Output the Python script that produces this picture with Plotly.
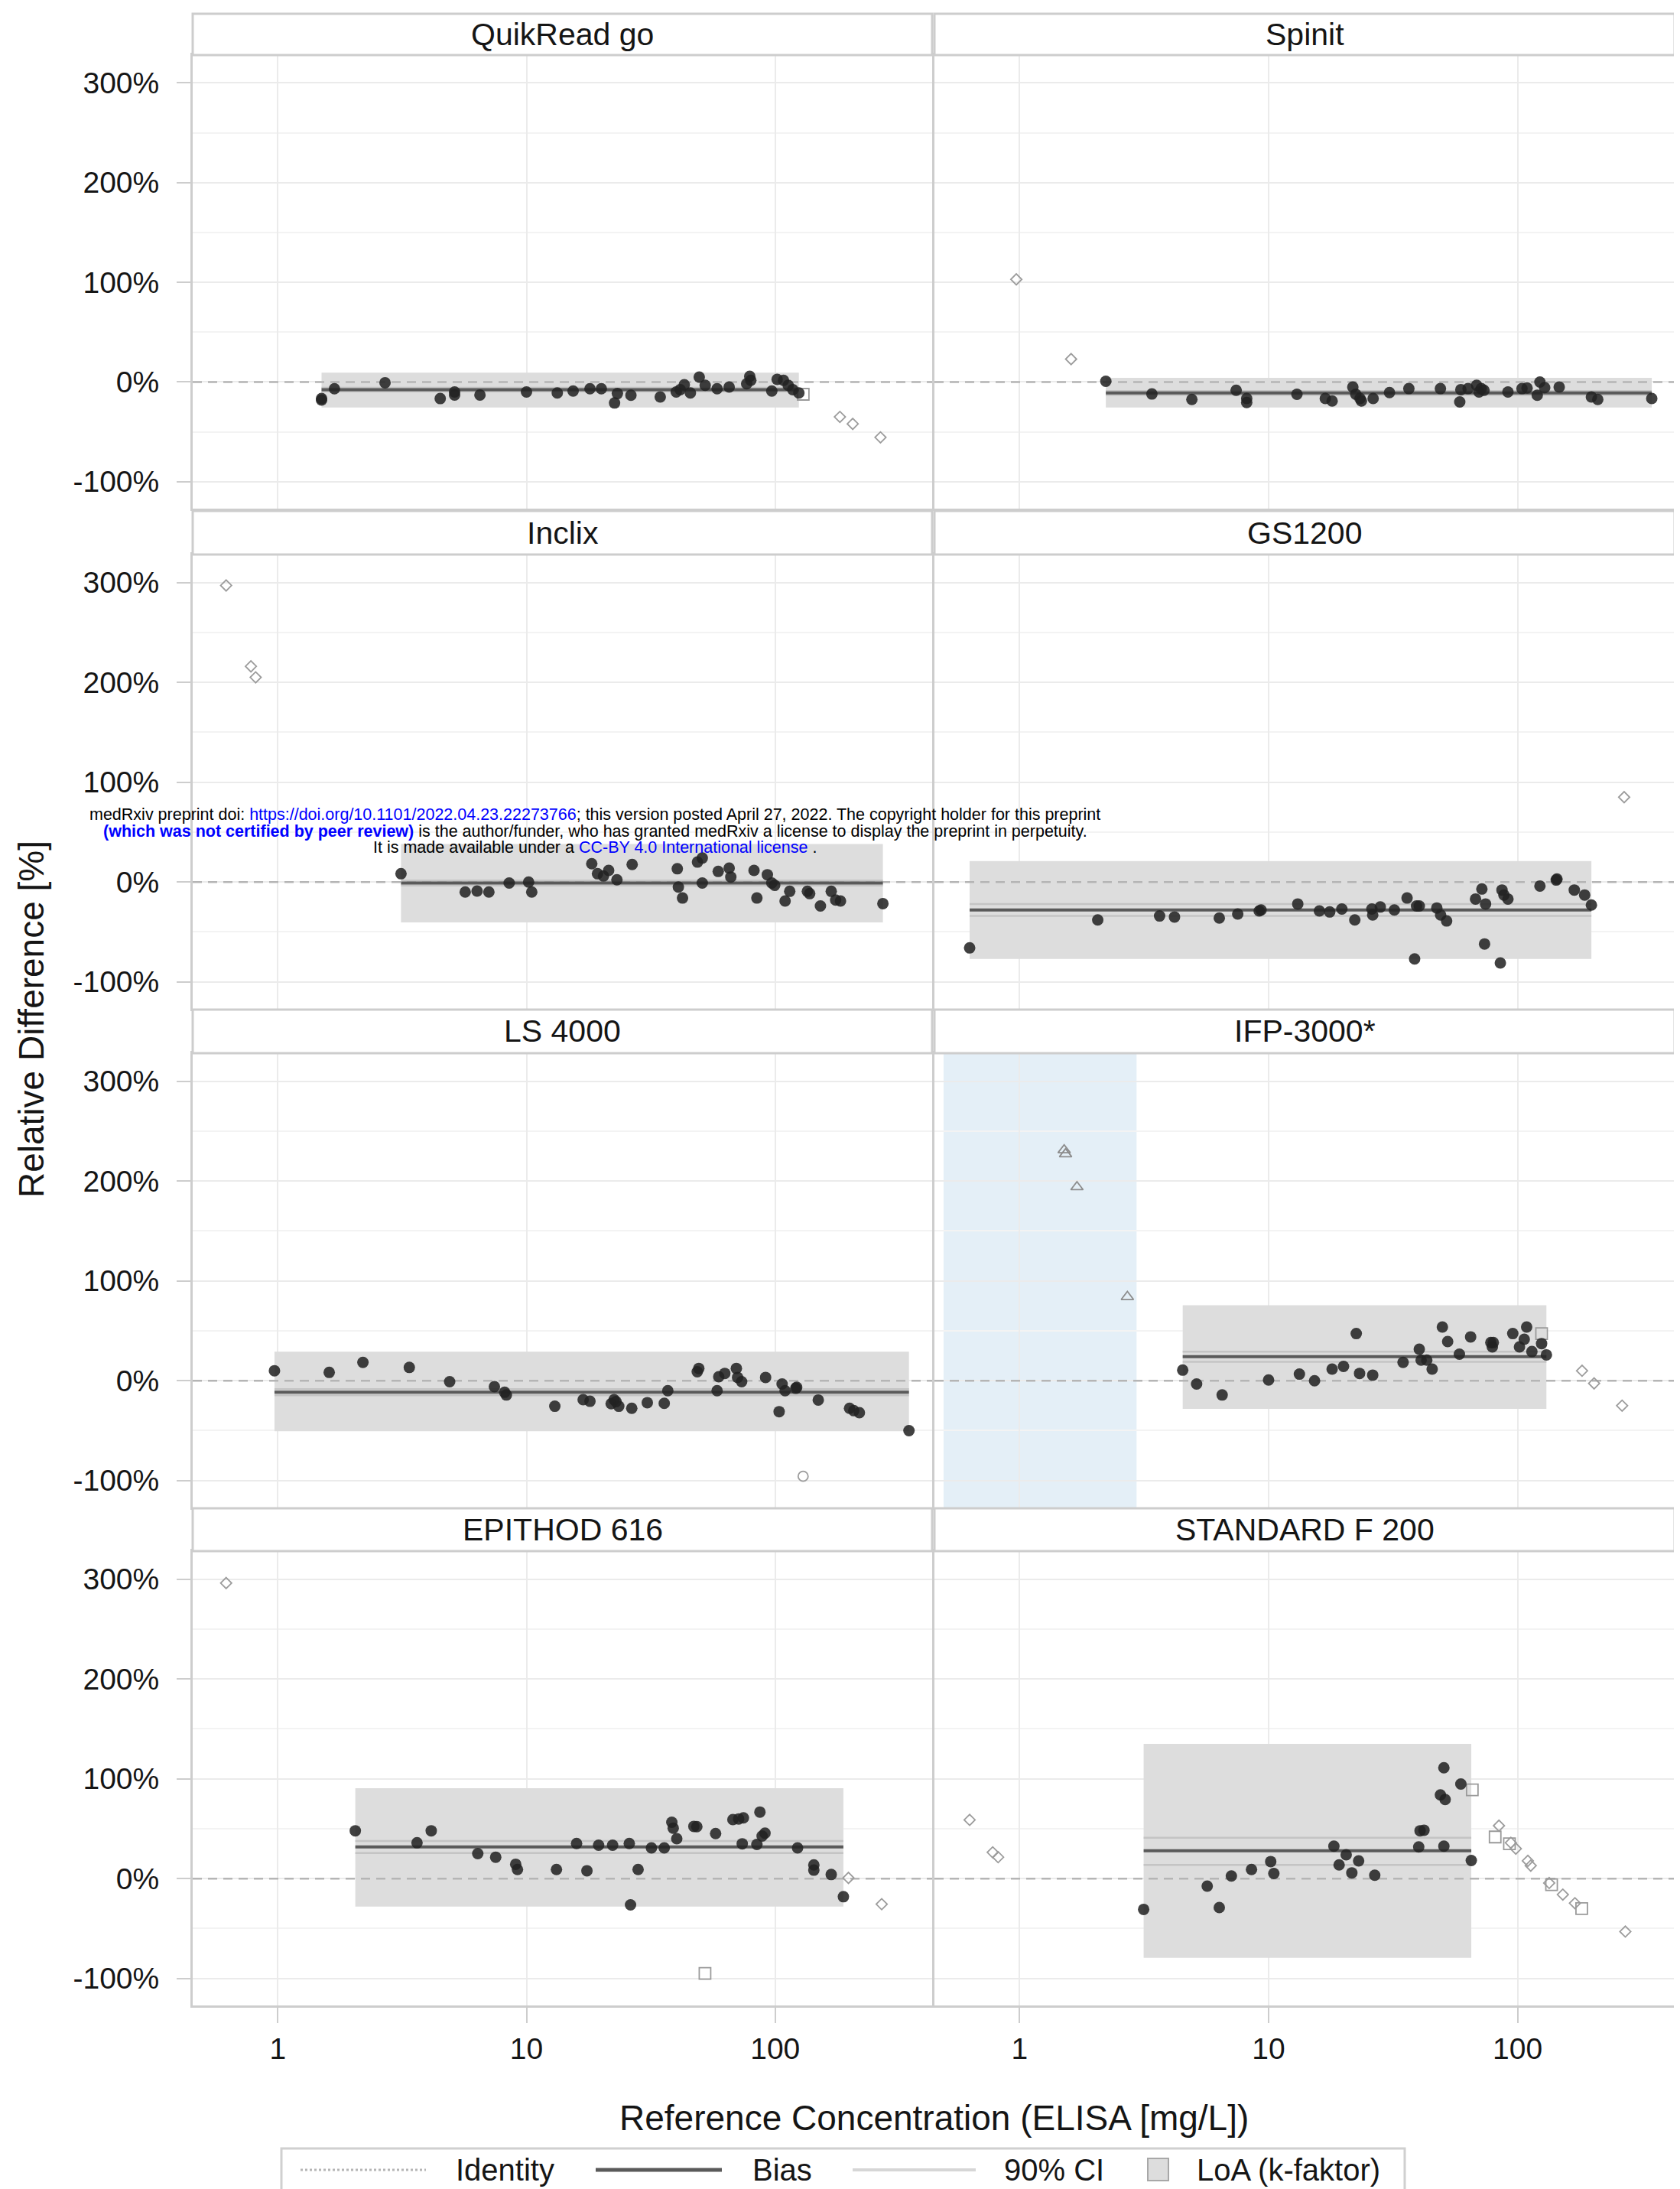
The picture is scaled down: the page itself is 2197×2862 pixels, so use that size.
import plotly.graph_objects as go

W, H = 2197, 2862
FONT = "Liberation Sans, Arial, sans-serif"

PANELS = ["QuikRead go", "Spinit", "Inclix", "GS1200",
          "LS 4000", "IFP-3000*", "EPITHOD 616", "STANDARD F 200"]

# ---------------- data ----------------
# QuikRead go
QUIK_X = [1.50, 1.50, 1.69, 2.70, 4.50, 5.14, 5.14, 6.5, 10.0, 13.3, 15.4, 18.0, 20.0, 22.6, 23.2, 26.3, 34.5,
          40.0, 41.5, 43.1, 45.6, 49.5, 52.3, 58.4, 65.3, 76.8, 79.0, 79.8, 96.9, 101.8, 108, 112.8, 117.7, 124.5]
QUIK_Y = [-16.6, -18, -6.7, -0.7, -16.6, -10, -13, -13, -10, -11, -9, -6.7, -6.7, -21, -11.6, -13.3, -15,
          -10, -7.6, -2.7, -11, 5, -3.3, -6.7, -5, -1.7, 5.7, 1.7, -9, 2.7, 1.7, -3.3, -7.6, -11]
QUIK_SQ_X = [129.6]
QUIK_SQ_Y = [-12.3]
QUIK_DI_X = [182, 205, 265]
QUIK_DI_Y = [-35, -42, -55.5]
QUIK_LOA = [-25.6, 9.3]
QUIK_BIAS = -7.6
QUIK_CI = [-9.5, -5.8]

# Spinit
SPIN_X = [2.22, 3.40, 4.92, 7.41, 8.17, 8.17, 13.0, 16.9, 18.0, 21.8, 22.4, 23.3, 23.6, 26.3, 30.6, 36.6, 49.0,
          58.6, 59.2, 63.3, 68.5, 70.0, 71.5, 73.3, 91.5, 104.2, 109.2, 120, 123, 128.5, 147, 198, 210, 346]
SPIN_Y = [0.7, -12, -17.5, -8.3, -16.5, -20.5, -12.3, -16.5, -19, -5, -12.3, -16.5, -19, -16.5, -10.6, -6.6, -6.6,
          -20, -7.6, -6.6, -3.3, -10, -6.6, -8.3, -10, -6.6, -6, -13.2, 0, -5.6, -5, -15, -17.5, -16.5]
SPIN_DI_X = [0.97, 1.61]
SPIN_DI_Y = [103, 23]
SPIN_LOA = [-25.5, 4.3]
SPIN_BIAS = -11
SPIN_CI = [-13, -9]

# Inclix
INCL_X = [3.13, 5.67, 6.33, 7.06, 8.52, 10.2, 10.5, 18.3, 19.3, 20.4, 21.4, 23.1, 26.6, 40.4, 40.8, 42.4, 48.7,
          50.9, 50.9, 59.0, 65.3, 66.3, 82.2, 84.4, 93.0, 96.9, 99.5, 109.6, 114.4, 134.7, 137.6, 152, 168, 175,
          183, 271]
INCL_Y = [8.3, -10, -9, -10, -1, 0, -10, 18.3, 8.3, 6, 11.6, 2.3, 17.6, 13.3, -5, -16, 20,
          24, -1, 10.6, 14, 5, 11.6, -16, 7.3, -1, -3.3, -19, -9.3, -9.3, -11.6, -24, -9.3, -18,
          -19, -21.6]
INCL_DI_X = [0.62, 0.78, 0.815]
INCL_DI_Y = [297, 216, 205]
INCL_LOA = [-40.5, 38]
INCL_BIAS = -1
INCL_CI = [-3.5, 1.5]

# GS1200
GS_X = [0.63, 2.06, 3.65, 4.19, 6.34, 7.52, 9.17, 9.33, 13.1, 16.0, 17.6, 19.7, 22.2, 26.0, 26.2, 28.1, 32.0,
        36.0, 38.6, 39.3, 40.3, 47.4, 49.1, 51.9, 67.8, 71.9, 73.7, 74.4, 85.3, 86.6, 88.2, 91.5, 123, 143, 144,
        169, 186, 198]
GS_Y = [-66, -38, -34, -35, -36, -32, -29, -28, -22, -29, -30, -27, -38, -27, -33, -25, -28,
        -16, -77, -24, -24, -26, -33, -39, -17, -7, -62, -22, -81, -8, -13, -17, -4, 2, 3,
        -8, -13, -23]
GS_DI_X = [268]
GS_DI_Y = [85]
GS_LOA = [-77, 21]
GS_BIAS = -28
GS_CI = [-34, -22]

# LS 4000
LS_X = [0.97, 1.61, 2.20, 3.38, 4.91, 7.43, 8.17, 8.30, 13.0, 16.9, 18.0, 21.9, 22.5, 22.9, 23.5, 26.5, 30.6,
        35.8, 37.0, 48.6, 49.3, 58.4, 59.3, 62.7, 69.8, 70.6, 73.3, 91.5, 103.7, 106.6, 109.6, 121, 122, 149,
        199, 207, 218, 345]
LS_Y = [10, 8.3, 18.3, 13.3, -1, -6, -11.6, -14.3, -25.6, -19, -20.6, -23, -19, -21, -25.6, -27.6, -22,
        -22.6, -10, 9, 12.3, -10, 4, 7.3, 12.3, 3.3, -1, 3.3, -31, -3.3, -10, -7.6, -6.6, -19.3,
        -27.6, -30, -32, -50]
LS_CI_X = [129.5]
LS_CI_Y = [-95.7]
LS_LOA = [-50.5, 29]
LS_BIAS = -11.5
LS_CI = [-14.5, -8.5]

# IFP-3000*
IFP_X = [4.52, 5.14, 6.51, 10.0, 13.3, 15.3, 18.0, 20.0, 22.5, 23.2, 26.2, 34.7, 40.3, 41.0, 43.2, 45.4, 49.9,
         52.4, 58.4, 64.8, 78.1, 79.2, 79.9, 95.7, 101.8, 106.4, 108.8, 114.2, 124.9, 130.6]
IFP_Y = [10.6, -3.3, -14.3, 0.7, 6.6, 0, 11.6, 14.3, 47.2, 7.3, 5.6, 18.3, 31.6, 20.6, 20.6, 11.6, 53.8,
         39.2, 26.6, 43.9, 38.2, 33.9, 38.2, 47.2, 33.9, 41.5, 53.8, 29.2, 37.2, 25.9]
IFP_TR_X = [1.51, 1.53, 1.70, 2.71]
IFP_TR_Y = [231, 227, 194, 84]
IFP_SQ_X = [124.9]
IFP_SQ_Y = [47.2]
IFP_DI_X = [181.6, 203, 263]
IFP_DI_Y = [10, -2.7, -25]
IFP_LOA = [-28.2, 75.7]
IFP_BIAS = 24
IFP_CI = [19, 29]
IFP_LOW_RANGE = [0.495, 2.95]

# EPITHOD 616
EPI_X = [2.05, 3.63, 4.14, 6.37, 7.52, 9.05, 9.2, 13.2, 15.9, 17.5, 19.5, 22.2, 25.9, 26.2, 28.1, 31.8, 35.8,
         38.4, 38.9, 40.2, 47.1, 48.4, 57.6, 67.6, 71.3, 74.5, 73.7, 84.4, 86.8, 88.6, 91.0, 123, 143, 143,
         168, 188]
EPI_Y = [47.9, 35.9, 47.9, 25, 21.5, 14.4, 9.2, 9.2, 35.2, 7.9, 33.5, 33.5, 35.2, -26.3, 9.2, 30.8, 30.8,
         56.4, 50.6, 40, 52.3, 52, 45.1, 59.1, 59.8, 60.9, 34.9, 34.2, 66.7, 42.7, 45.5, 30.8, 13.7, 8.5,
         4.1, -18.1]
EPI_DI_X = [0.62, 197, 268]
EPI_DI_Y = [296, 0.7, -25.6]
EPI_SQ_X = [52.2]
EPI_SQ_Y = [-95]
EPI_LOA = [-28, 90.6]
EPI_BIAS = 31.8
EPI_CI = [25.6, 37.6]

# STANDARD F 200
STD_X = [3.15, 5.67, 6.34, 7.09, 8.54, 10.2, 10.5, 18.3, 19.2, 20.5, 21.6, 23.0, 26.7, 40.1, 40.6, 42.1, 49.0,
         51.2, 50.6, 50.6, 59.2, 65.2]
STD_Y = [-30.8, -7.5, -29, 2.7, 9.2, 17.1, 5.1, 32.5, 13.7, 23.9, 5.8, 17.8, 3.4, 31.8, 47.9, 48.5, 83.8,
         79.3, 111, 32.5, 94.7, 18.1]
STD_SQ_X = [65.8, 81.3, 92.8, 137, 181]
STD_SQ_Y = [88.9, 41.7, 34.9, -6, -30]
STD_DI_X = [0.63, 0.78, 0.82, 84.2, 94, 98.4, 110, 113, 134, 152, 170, 271]
STD_DI_Y = [58.8, 26.3, 21.5, 53, 35.9, 30, 17.8, 13, -4.4, -16, -24.6, -53]
STD_LOA = [-79.3, 135]
STD_BIAS = 28
STD_CI = [13.7, 41]

IDENTITY = 0

Y_RANGE = [-127, 328]
X_RANGE_LOG = [-0.342, 2.631]
Y_TICKS = [-100, 0, 100, 200, 300]
Y_TICK_TEXT = ["-100%", "0%", "100%", "200%", "300%"]
X_TICKS = [1, 10, 100]
X_TICK_TEXT = ["1", "10", "100"]

LEGEND_LABELS = ["Identity", "Bias", "90% CI", "LoA (k-faktor)"]

# per-panel bundle
DATA = [
    dict(x=QUIK_X, y=QUIK_Y, loa=QUIK_LOA, bias=QUIK_BIAS, ci=QUIK_CI,
         extra=[("diamond-open", QUIK_DI_X, QUIK_DI_Y), ("square-open", QUIK_SQ_X, QUIK_SQ_Y)]),
    dict(x=SPIN_X, y=SPIN_Y, loa=SPIN_LOA, bias=SPIN_BIAS, ci=SPIN_CI,
         extra=[("diamond-open", SPIN_DI_X, SPIN_DI_Y)]),
    dict(x=INCL_X, y=INCL_Y, loa=INCL_LOA, bias=INCL_BIAS, ci=INCL_CI,
         extra=[("diamond-open", INCL_DI_X, INCL_DI_Y)]),
    dict(x=GS_X, y=GS_Y, loa=GS_LOA, bias=GS_BIAS, ci=GS_CI,
         extra=[("diamond-open", GS_DI_X, GS_DI_Y)]),
    dict(x=LS_X, y=LS_Y, loa=LS_LOA, bias=LS_BIAS, ci=LS_CI,
         extra=[("circle-open", LS_CI_X, LS_CI_Y)]),
    dict(x=IFP_X, y=IFP_Y, loa=IFP_LOA, bias=IFP_BIAS, ci=IFP_CI,
         extra=[("triangle-up-open", IFP_TR_X, IFP_TR_Y), ("square-open", IFP_SQ_X, IFP_SQ_Y),
                ("diamond-open", IFP_DI_X, IFP_DI_Y)]),
    dict(x=EPI_X, y=EPI_Y, loa=EPI_LOA, bias=EPI_BIAS, ci=EPI_CI,
         extra=[("diamond-open", EPI_DI_X, EPI_DI_Y), ("square-open", EPI_SQ_X, EPI_SQ_Y)]),
    dict(x=STD_X, y=STD_Y, loa=STD_LOA, bias=STD_BIAS, ci=STD_CI,
         extra=[("diamond-open", STD_DI_X, STD_DI_Y), ("square-open", STD_SQ_X, STD_SQ_Y)]),
]

# ---------------- styling / geometry (pixels) ----------------
COL_X = [(244, 1211), (1214, 2182)]
ROW_PLOT = [(64, 657), (717, 1311), (1369, 1963), (2020, 2614)]
ROW_STRIP = [(10, 64), (660, 717), (1312, 1369), (1964, 2020)]

GRID = "#ebebeb"
BORDER = "#cdcdcd"
LOA_FILL = "#dddddd"
BIAS_COL = "#5a5a5a"
CI_COL = "#c4c4c4"
ID_COL = "#b5b5b5"
PT_COL = "rgba(34,34,34,0.86)"
TXT = "#151515"
OPEN_COL = {"diamond-open": "#9c9c9c", "square-open": "#9a9a9a",
            "triangle-up-open": "#8c8c8c", "circle-open": "#9c9c9c"}
OPEN_SIZE = {"diamond-open": 11, "square-open": 15, "triangle-up-open": 14, "circle-open": 13}


def px_x(p):
    return p / W


def px_y(p):
    return 1 - p / H


fig = go.Figure()
shapes, annotations, axes = [], [], {}

for i, name in enumerate(PANELS):
    r, c = divmod(i, 2)
    sfx = "" if i == 0 else str(i + 1)
    xa, ya = "x" + sfx, "y" + sfx
    d = DATA[i]
    x0, x1 = COL_X[c]
    yt, yb = ROW_PLOT[r]
    bottom = (r == 3)
    left = (c == 0)

    axes["xaxis" + sfx] = dict(
        type="log", range=X_RANGE_LOG, domain=[px_x(x0), px_x(x1)], anchor=ya,
        tickvals=X_TICKS, ticktext=X_TICK_TEXT, showticklabels=bottom,
        ticks="outside" if bottom else "", ticklen=20, tickwidth=2, tickcolor=BORDER,
        ticklabelstandoff=0,
        showgrid=True, gridcolor=GRID, gridwidth=2, zeroline=False,
        showline=True, mirror=True, linecolor=BORDER, linewidth=3,
        tickfont=dict(family=FONT, size=39, color=TXT))
    axes["yaxis" + sfx] = dict(
        range=Y_RANGE, domain=[px_y(yb), px_y(yt)], anchor=xa,
        tickvals=Y_TICKS, ticktext=Y_TICK_TEXT, showticklabels=left,
        ticks="outside" if left else "", ticklen=18, tickwidth=2, tickcolor=BORDER,
        ticklabelstandoff=15,
        showgrid=True, gridcolor=GRID, gridwidth=2, zeroline=False,
        minor=dict(dtick=50, showgrid=True, gridcolor="#f3f3f3", gridwidth=1.5, ticks=""),
        showline=True, mirror=True, linecolor=BORDER, linewidth=3,
        tickfont=dict(family=FONT, size=39, color=TXT))

    # strip
    st, sb = ROW_STRIP[r]
    shapes.append(dict(type="rect", xref="paper", yref="paper",
                       x0=px_x(x0), x1=px_x(x1), y0=px_y(sb), y1=px_y(st),
                       fillcolor="white", line=dict(color=BORDER, width=3)))
    annotations.append(dict(text=name, xref="paper", yref="paper",
                            x=px_x((x0 + x1) / 2), y=px_y((st + sb) / 2),
                            xanchor="center", yanchor="middle", showarrow=False,
                            font=dict(family=FONT, size=41, color=TXT)))

    if name == "IFP-3000*":
        shapes.append(dict(type="rect", xref=xa, yref=ya + " domain",
                           x0=IFP_LOW_RANGE[0], x1=IFP_LOW_RANGE[1], y0=0, y1=1,
                           fillcolor="#e4eff7", line=dict(width=0), layer="below"))

    xmin, xmax = min(d["x"]), max(d["x"])
    lo, hi = d["loa"]
    # LoA rectangle
    fig.add_trace(go.Scatter(x=[xmin, xmax, xmax, xmin, xmin], y=[lo, lo, hi, hi, lo],
                             mode="lines", fill="toself", fillcolor=LOA_FILL,
                             line=dict(width=0), xaxis=xa, yaxis=ya, showlegend=False,
                             hoverinfo="skip"))
    # identity
    fig.add_trace(go.Scatter(x=[10 ** X_RANGE_LOG[0], 10 ** X_RANGE_LOG[1]], y=[IDENTITY, IDENTITY],
                             mode="lines", line=dict(color=ID_COL, width=2.5, dash="12px,8px"),
                             xaxis=xa, yaxis=ya, showlegend=False, hoverinfo="skip"))
    # CI
    for cv in d["ci"]:
        fig.add_trace(go.Scatter(x=[xmin, xmax], y=[cv, cv], mode="lines",
                                 line=dict(color=CI_COL, width=2.5),
                                 xaxis=xa, yaxis=ya, showlegend=False, hoverinfo="skip"))
    # bias
    fig.add_trace(go.Scatter(x=[xmin, xmax], y=[d["bias"], d["bias"]], mode="lines",
                             line=dict(color=BIAS_COL, width=4),
                             xaxis=xa, yaxis=ya, showlegend=False, hoverinfo="skip"))
    # open markers
    for sym, ex, ey in d["extra"]:
        fig.add_trace(go.Scatter(x=ex, y=ey, mode="markers",
                                 marker=dict(symbol=sym, size=OPEN_SIZE[sym], color=OPEN_COL[sym],
                                             line=dict(width=1.8, color=OPEN_COL[sym])),
                                 xaxis=xa, yaxis=ya, showlegend=False))
    # filled points
    fig.add_trace(go.Scatter(x=d["x"], y=d["y"], mode="markers",
                             marker=dict(symbol="circle", size=15, color=PT_COL, line=dict(width=0)),
                             xaxis=xa, yaxis=ya, showlegend=False))

# axis titles
annotations.append(dict(text="Relative Difference [%]", xref="paper", yref="paper",
                        x=px_x(33), y=px_y(1325), textangle=-90, showarrow=False,
                        xanchor="center", yanchor="middle",
                        font=dict(family=FONT, size=46, color=TXT)))
annotations.append(dict(text="Reference Concentration (ELISA [mg/L])", xref="paper", yref="paper",
                        x=px_x(1213), y=px_y(2761), showarrow=False,
                        xanchor="center", yanchor="middle",
                        font=dict(family=FONT, size=46, color=TXT)))

# medRxiv watermark
WM = [
    "medRxiv preprint doi: <span style='color:#0000ff'>https://doi.org/10.1101/2022.04.23.22273766</span>; "
    "this version posted April 27, 2022. The copyright holder for this preprint",
    "<span style='color:#0000ff'><b>(which was not certified by peer review)</b></span> is the author/funder, "
    "who has granted medRxiv a license to display the preprint in perpetuity.",
    "It is made available under a <span style='color:#0000ff'>CC-BY 4.0 International license</span> .",
]
for t, yy in zip(WM, [1057, 1079, 1100]):
    annotations.append(dict(text=t, xref="paper", yref="paper", x=px_x(770), y=px_y(yy),
                            showarrow=False, xanchor="center", yanchor="middle",
                            font=dict(family=FONT, size=21.5, color="black")))

# manual legend (bottom)
LEG_Y = 2829
shapes.append(dict(type="rect", xref="paper", yref="paper", x0=px_x(360), x1=px_x(1829),
                   y0=px_y(2880), y1=px_y(2801), fillcolor="white",
                   line=dict(color="#d0d0d0", width=3)))
for (a, b), col, wd, dash in [((385, 549), ID_COL, 3, "dot"), ((771, 936), BIAS_COL, 5, "solid"),
                              ((1107, 1268), "#d6d6d6", 4, "solid")]:
    shapes.append(dict(type="line", xref="paper", yref="paper", x0=px_x(a), x1=px_x(b),
                       y0=px_y(LEG_Y), y1=px_y(LEG_Y), line=dict(color=col, width=wd, dash=dash)))
shapes.append(dict(type="rect", xref="paper", yref="paper", x0=px_x(1493), x1=px_x(1520),
                   y0=px_y(LEG_Y + 14), y1=px_y(LEG_Y - 15), fillcolor=LOA_FILL,
                   line=dict(color="#a8a8a8", width=2)))
for lab, xx in zip(LEGEND_LABELS, [586, 974, 1303, 1555]):
    annotations.append(dict(text=lab, xref="paper", yref="paper", x=px_x(xx), y=px_y(LEG_Y),
                            showarrow=False, xanchor="left", yanchor="middle",
                            font=dict(family=FONT, size=40, color=TXT)))

fig.update_layout(**axes)
fig.update_layout(shapes=shapes, annotations=annotations,
                  width=W, height=H, margin=dict(l=0, r=0, t=0, b=0),
                  paper_bgcolor="white", plot_bgcolor="white", showlegend=False,
                  font=dict(family=FONT))

fig.write_html("out.html")
